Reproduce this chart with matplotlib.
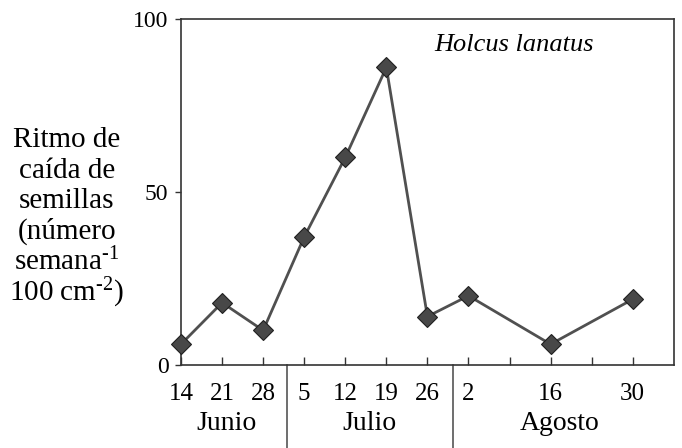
import matplotlib.pyplot as plt
import matplotlib.transforms as mtransforms

plt.rcParams['font.family'] = ['Liberation Serif', 'DejaVu Serif']
plt.rcParams['mathtext.fontset'] = 'custom'
plt.rcParams['mathtext.rm'] = 'Liberation Serif'
plt.rcParams['mathtext.it'] = 'Liberation Serif:italic'

# days counted from 14 June
days = [0, 7, 14, 21, 28, 35, 42, 49, 63, 77]
rate = [6, 18, 10, 37, 60, 86, 14, 20, 6, 19]
tick_days = [0, 7, 14, 21, 28, 35, 42, 49, 56, 63, 70, 77]
tick_labels = ['14', '21', '28', '5', '12', '19', '26', '2', '', '16', '', '30']
months = ['Junio', 'Julio', 'Agosto']
month_x = [7.7, 32.2, 64.5]
dividers = [18, 46.3]
ylabel_lines = ['Ritmo de', 'caída de', 'semillas', '(número',
                r'semana$^{\text{-1}}$', r'100 cm$^{\text{-2}}$)']

fig = plt.figure(figsize=(6.82, 4.48), dpi=100)
ax = fig.add_axes([0.2654, 0.1853, 0.7226, 0.7723])

ax.plot(days, rate, color='#505050', lw=2, marker='D', ms=10.5,
        mfc='#484848', mec='#202020', mew=0.8, clip_on=False, zorder=3)

ax.set_xlim(0, 84)
ax.set_ylim(0, 100)
ax.set_yticks([0, 50, 100])
ax.set_xticks(tick_days, tick_labels)
ax.tick_params(axis='x', direction='in', length=6, width=1, color='#333333',
               labelsize=18, pad=13)
ax.tick_params(axis='y', direction='out', length=4, width=1, color='#333333',
               labelsize=17, pad=5)
for s in ax.spines.values():
    s.set_color('#333333')
    s.set_linewidth(1.2)

trans = mtransforms.blended_transform_factory(ax.transData, ax.transAxes)
for d in dividers:
    ax.plot([d, d], [0, -0.3], color='#555555', lw=1.2, transform=trans,
            clip_on=False)
for m, x in zip(months, month_x):
    ax.text(x, -0.17, m, transform=trans, ha='center', va='center',
            fontsize=20)

ax.text(0.675, 0.925, 'Holcus lanatus', transform=ax.transAxes,
        ha='center', va='center', fontsize=19, style='italic')

for i, line in enumerate(ylabel_lines):
    fig.text(0.098, 1 - (140 + i * 30.6) / 448, line, ha='center',
             va='center', fontsize=21)

fig.savefig('out.png', dpi=100)
